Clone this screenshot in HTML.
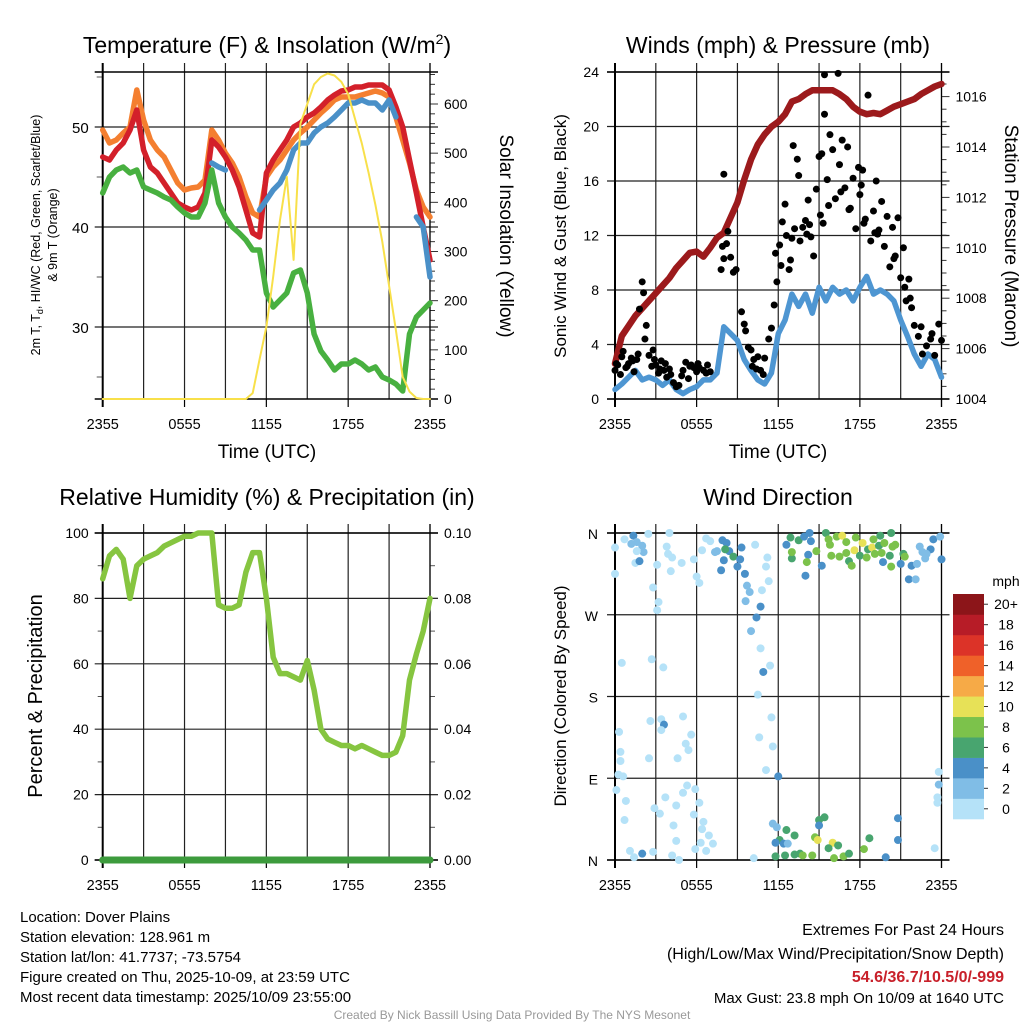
<!DOCTYPE html>
<html><head><meta charset="utf-8">
<style>
html,body{margin:0;padding:0;background:#fff;}
svg{display:block;font-family:"Liberation Sans",Arial,sans-serif;}
</style></head>
<body>
<svg id="chart" width="1024" height="1024" viewBox="0 0 1024 1024" xmlns="http://www.w3.org/2000/svg">
<rect width="1024" height="1024" fill="#fff"/>
<g id="p1"></g>
<g id="p2"></g>
<g id="p3"></g>
<g id="p4"></g>

<text x="267" y="53" font-size="23" text-anchor="middle">Temperature (F) &amp; Insolation (W/m<tspan font-size="14" dy="-9">2</tspan><tspan dy="9">)</tspan></text>
<text x="778" y="53" font-size="23" text-anchor="middle">Winds (mph) &amp; Pressure (mb)</text>
<text x="267" y="505" font-size="23" text-anchor="middle">Relative Humidity (%) &amp; Precipitation (in)</text>
<text x="778" y="505" font-size="23" text-anchor="middle">Wind Direction</text>

<text x="267" y="458" font-size="19" text-anchor="middle">Time (UTC)</text>
<text x="778" y="458" font-size="19" text-anchor="middle">Time (UTC)</text>

<g font-size="12.5" text-anchor="middle">
<text transform="translate(40,235) rotate(-90)">2m T, T<tspan font-size="9" dy="3">d</tspan><tspan dy="-3">, HI/WC (Red, Green, Scarlet/Blue)</tspan></text>
<text transform="translate(57,235) rotate(-90)">&amp; 9m T (Orange)</text>
</g>
<text transform="translate(500,236) rotate(90)" font-size="19" text-anchor="middle">Solar Insolation (Yellow)</text>
<text transform="translate(566,236) rotate(-90)" font-size="17" text-anchor="middle">Sonic Wind &amp; Gust (Blue, Black)</text>
<text transform="translate(1005,236) rotate(90)" font-size="19" text-anchor="middle">Station Pressure (Maroon)</text>
<text transform="translate(42,696) rotate(-90)" font-size="20" text-anchor="middle">Percent &amp; Precipitation</text>
<text transform="translate(566,696) rotate(-90)" font-size="17" text-anchor="middle">Direction (Colored By Speed)</text>

<g font-size="15">
<text x="20" y="922">Location: Dover Plains</text>
<text x="20" y="942">Station elevation: 128.961 m</text>
<text x="20" y="962">Station lat/lon: 41.7737; -73.5754</text>
<text x="20" y="982">Figure created on Thu, 2025-10-09, at 23:59 UTC</text>
<text x="20" y="1002">Most recent data timestamp: 2025/10/09 23:55:00</text>
</g>
<g font-size="16" text-anchor="end">
<text x="1004" y="935">Extremes For Past 24 Hours</text>
<text x="1004" y="959">(High/Low/Max Wind/Precipitation/Snow Depth)</text>
<text x="1004" y="982" fill="#c8202a" font-weight="bold">54.6/36.7/10.5/0/-999</text>
<text x="1004" y="1003" font-size="15">Max Gust: 23.8 mph On 10/09 at 1640 UTC</text>
</g>
<text x="512" y="1019" font-size="12" fill="#999" text-anchor="middle">Created By Nick Bassill Using Data Provided By The NYS Mesonet</text>
</svg>
<script>
// ---------- DATA (half-hourly, 49 points, hours since 2355) ----------
const xTickLabels = ["2355","0555","1155","1755","2355"];
const tempT2m = [47,46.7,47.7,48.4,49.7,51.7,47.7,46,45.4,44.4,43.4,42.4,42,41.7,42,43.4,48.7,48,47,45.7,44,41.7,39.4,39,45.4,46.7,47.7,48.7,50,50.4,51,51.4,52,52.7,53.2,53.6,53.7,54,54,54.2,54.2,54.2,53.7,52,50,46.7,43.4,40,36.7];
const temp9m = [49.7,48.4,48.7,49.4,50,53.7,50.7,48.7,47.7,47,45.7,44.4,43.7,43.9,44,44.7,49.7,48.7,47.4,46.4,45,43,41.4,41,45,46,46.7,47.7,48.7,49.4,50,50.7,51.4,52,52.7,53,53,53,53.2,53.4,53.6,53.4,53,51,48.7,46.4,43.7,42,41];
const tempHIWC = [null,null,null,null,null,null,null,null,null,null,null,null,null,null,null,null,46.4,46,45.7,null,null,null,null,41.7,42.7,43.7,44.4,45.7,47.7,48.4,48.4,49.4,50,50.4,51,51.7,52.4,52.4,52.7,52.4,52.4,51.7,52.7,51,null,null,41,40,35];
const dewpoint = [43.4,45,45.7,46,45.4,45.7,44,43.7,43.4,43,42.7,42,41.4,41,41,42.4,45.7,42.4,41,40,39.4,38.7,37.7,37.7,33.4,32,32.7,33.4,35.4,35.7,33.4,29.3,27.6,26.7,25.7,26.3,26.3,26.7,26.3,25.7,26,25,24.7,24.3,23.6,29.3,31,31.7,32.4];
const insolation = [0,0,0,0,0,0,0,0,0,0,0,0,0,0,0,0,0,0,0,0,0,0,12,80,147,249,364,452,283,560,600,640,655,662,658,645,620,570,520,460,395,320,230,140,45,15,2,0,0];
const windSpeed = [0.7,1.1,1.6,2.1,1.4,1.6,1.4,1,1.4,0.7,0.4,0.7,0.9,1.4,1.4,1.9,5.3,4.8,4.3,2.9,2.1,1.4,1.1,1.9,4.8,5.8,7.7,6.8,7.7,6.3,8.2,7.2,8.2,7.7,8,7.2,8.2,9,7.7,8,7.7,7.2,5.8,4.6,3.3,2.4,3.3,2.9,1.6];
const pressure = [1005.4,1006.5,1006.9,1007.3,1007.6,1007.9,1008.2,1008.5,1008.8,1009.2,1009.5,1009.8,1009.85,1009.65,1010,1010.4,1010.6,1011.2,1011.8,1012.7,1013.5,1014.1,1014.5,1014.8,1015,1015.3,1015.8,1015.9,1016.1,1016.25,1016.25,1016.25,1016.25,1016.1,1015.9,1015.6,1015.4,1015.3,1015.35,1015.3,1015.45,1015.6,1015.7,1015.8,1015.9,1016.1,1016.25,1016.4,1016.5];
const rh = [86,93,95,92,80,90,92,93,94,96,97,98,99,99,100,100,100,78,77,77,78,88,94,94,80,62,57,57,56,55,61,52,40,37,36,35,35,34,35,34,33,32,32,33,38,55,63,70,80];
const precip = [0,0,0,0,0,0,0,0,0,0,0,0,0,0,0,0,0,0,0,0,0,0,0,0,0,0,0,0,0,0,0,0,0,0,0,0,0,0,0,0,0,0,0,0,0,0,0,0,0];
const gustHours = [0,0.2,0.4,0.6,0.8,1,1.2,1.4,1.6,1.8,2,2.1,2.2,2.3,2.5,2.7,2.8,3,3.2,3.4,3.6,3.8,4,4.3,4.5,4.7,5,5.2,5.4,5.6,5.8,6,6.2,6.5,6.8,7,7.8,7.9,8,8.2,8.3,8.5,8.7,8.9,8,9.3,9.5,9.6,9.8,10,10.2,10.5,10.7,10.9,11,11.3,11.5,11.7,11.9,11.8,12.1,12.3,12.6,12.8,13,13.2,13.1,13.4,13.5,13.8,14,14.2,14.4,14.6,14.8,15,15.2,15.4,15.3,15.6,15.7,15.8,16,15.4,16.4,16.5,16.7,16.9,17.1,17.3,17.5,17.7,17.9,18,18.2,18.4,18.6,18.8,19,19.2,19.4,19.6,19.8,20,20.2,20.4,20.6,20.8,21,21.2,21.4,21.6,21.8,22,22.3,22.6,22.9,23.2,23.5,23.8,24,14.1,16.2,17.2,18.1,19.1,12.5,13.6,0.1,0.5,0.9,1.3,1.7,2.9,3.3,3.7,4.1,4.9,5.5,6.1,6.7,10.1,10.4,12.2,12.9,14.3,15.1,16.6,18.3,19.3,20.5,21.3,21.7,22.5,23.3];
const gustMph = [2.1,2.5,1.8,3.5,2.3,2.6,3,2,2.9,6.6,8.6,7.8,4.4,5.4,3.2,2.4,3.6,2.5,1.9,2.8,2.1,1.6,2.2,1.2,0.9,1,2.1,2.7,1.5,2.5,2.3,2,2.3,2.1,2.5,2,9.5,11.2,10.3,11.4,12.3,10.4,9.3,9.5,16.5,6.4,5.5,5,3.8,3.6,2.9,3.1,2.1,1.8,3,4.4,5.2,6.9,8.6,10.7,11.3,13,12,9.5,11.8,12.5,18.6,17.6,16.4,12.6,13.1,14.6,11.9,10.5,15.4,17.8,18,20.9,12.9,16.1,14.2,19.4,18.3,23.8,23.9,17.2,19,15.5,18.5,14,16.2,12.5,17,15,16.8,13.2,22.3,11.6,13.8,16,12.4,14.5,11.2,13.4,9.7,12.6,10.5,13.3,8.9,11.1,7.2,8.8,6.7,5.4,4.6,3.3,3.9,4.4,3.2,5.5,4.3,12.1,14.7,13.9,15.7,12.2,14.3,11.6,2.6,3.1,2.4,2.8,3.3,2.9,2.2,2.6,1.8,1.7,2.4,2.6,1.9,2.4,2.2,9.8,10.2,12.8,13.5,15.2,12.9,12.1,10.3,8.2,7.4,5.3,4.8];
const dirHours = [0,0,0.7,1.35,1.2,1.6,2,2.1,1.6,1.5,1.8,2.45,3.1,2.8,3.2,3.1,3.8,3.9,4.2,4.1,4,4.9,5.8,6,6.2,6.7,7,6.4,7.35,7.5,7.9,8.2,8,8.4,8.7,8.1,9,7.8,9.3,9.2,9.55,9.7,9.9,9.6,10.3,10.7,10.4,10,10.7,10.9,11.4,10.5,11.5,10.6,11.6,11.1,11.2,11.1,11.3,10.8,0.5,2.7,3.55,0.3,2.6,3.4,3.6,3.4,5,5.6,5.2,5.4,4.6,2.5,0.4,0.4,0.25,0.6,0.1,0.8,0.7,1.1,1.4,2,2.8,2.9,3.3,3.7,4.5,5.3,5,5.9,6.2,5.8,6.5,6.4,6.9,7.2,6.3,5.9,6.7,4.2,4.7,4.5,4.3,10.2,12,12.6,12.9,13,13,13.5,13.9,14.3,14.4,14.2,14.1,14,14.8,15.2,15.5,15.7,15.8,15.9,16.3,16.7,16.5,17,17,17.2,17.4,17.6,17.7,18,18.2,18.5,18.6,18.9,19,19.1,19.4,19.6,19.5,19.7,19.8,20.2,20.3,20.4,20.3,20.6,21,21.2,21.3,21.6,21.8,22.1,22.4,22.6,22.8,23.2,23.4,23.9,24,22.2,22.9,11.6,11.9,12.6,12.1,12.4,12.7,11.8,11.8,12.5,13.2,13.6,13.8,14.5,13.2,14.7,14.9,15,15,15.4,16,16.4,15.7,16.1,16.8,17.2,18.3,18.7,19.9,20.8,20.8,23.5,23.8,23.8,23.7,23.7];
const dirDeg = [344,315,353,357,348,350,346,339,340,327,329,359,325,300,284,275,345,337,333,318,360,327,331,312,305,354,351,341,339,340,352,349,330,340,334,342,323,319,344,331,315,302,295,285,347,279,267,252,233,207,214,182,157,135,125,99,333,323,307,297,217,221,212,141,153,155,149,143,158,138,128,121,112,112,119,109,94,92,77,65,44,10,3,7,9,57,51,69,60,82,74,78,63,50,42,34,27,18,19,12,10,5,0,21,38,2,92,347,355,332,339,352,356,360,351,336,328,313,340,324,360,353,347,335,356,357,334,338,350,329,324,341,355,335,349,333,342,344,353,337,346,338,357,328,349,335,360,345,323,347,326,337,334,309,324,309,345,339,332,342,353,356,331,326,337,40,36,33,22,18,18,19,4,5,6,7,5,5,27,25,22,44,38,47,19,16,13,2,4,7,12,24,3,46,22,13,97,83,69,63];
const dirSpeed = [1,1,1,5,3,3,3,3,1,1,5,1,1,1,1,1,1,1,1,1,1,1,1,1,1,1,1,1,3,3,5,5,5,5,7,7,5,5,5,5,5,3,3,3,1,5,5,3,1,5,1,1,1,1,1,1,1,1,1,1,1,1,1,1,1,1,5,1,1,1,1,1,1,1,1,1,1,1,1,1,1,1,1,5,1,1,1,1,1,1,1,1,1,1,1,1,1,1,1,1,1,1,1,1,1,1,5,5,7,7,9,7,5,5,5,5,9,5,9,5,7,9,9,9,9,11,9,9,9,7,9,11,9,7,11,9,7,11,9,9,7,9,7,5,9,7,7,9,9,9,5,7,9,5,5,3,3,3,3,5,5,3,5,3,3,3,3,7,7,5,3,5,7,7,7,7,9,9,7,9,11,7,5,7,11,7,7,9,9,7,9,7,5,5,5,1,1,3,1];
const cbarLabels = ["0","2","4","6","8","10","12","14","16","18","20+"];
const cbarColors = ["#b5e2f8","#80bde6","#4a90c8","#48a56f","#7cc24b","#e7e157","#f6aa47","#ef6129","#dc3328","#b71c27","#8c1519"];

const NS="http://www.w3.org/2000/svg";
function mk(parent,tag,attrs){const e=document.createElementNS(NS,tag);for(const k in attrs)e.setAttribute(k,attrs[k]);parent.appendChild(e);return e;}
function txt(parent,x,y,s,size,anchor){const t=mk(parent,"text",{x:x,y:y,"font-size":size,"text-anchor":anchor||"middle"});t.textContent=s;return t;}

function frame(g,L,T,R,B){
  for(let h=0;h<=24;h+=3){const x=L+(R-L)*h/24;
    const ln=mk(g,"line",{x1:x,y1:T-9,x2:x,y2:B,stroke:"#222","stroke-width":1.2});
    
    
    if(h%6===0){mk(g,"line",{x1:x,y1:B,x2:x,y2:B+8,stroke:"#000","stroke-width":1.2});
      const t=txt(g,x,B+30,xTickLabels[h/6],14.5);
      
      }
  }
}
function hgrid(g,L,R,y,ext){const ln=mk(g,"line",{x1:L-(ext||8),y1:y,x2:R+8,y2:y,stroke:"#222","stroke-width":1.2});
  
  }
function box(g,L,T,R,B){mk(g,"line",{x1:L,y1:T-9,x2:L,y2:B+8,stroke:"#000","stroke-width":2});
  mk(g,"line",{x1:R,y1:T-9,x2:R,y2:B+8,stroke:"#000","stroke-width":1.2});
  mk(g,"line",{x1:L-8,y1:B,x2:R+8,y2:B,stroke:"#000","stroke-width":1.5});
  mk(g,"line",{x1:L-8,y1:T,x2:R+8,y2:T,stroke:"#000","stroke-width":1.5});}
function linePath(g,vals,xf,yf,color,w,name){
  let d="",pen=false;
  vals.forEach((v,i)=>{if(v===null){pen=false;return;}d+=(pen?"L":"M")+xf(i).toFixed(1)+","+yf(v).toFixed(1);pen=true;});
  const p=mk(g,"path",{d:d,fill:"none",stroke:color,"stroke-width":w,"stroke-linejoin":"round","stroke-linecap":"round"});
  
  
  return p;}

(function(){
  const g=document.getElementById("p1");const L=102.7,R=430,T=72,B=399;
  const x=i=>L+(R-L)*(i*0.5)/24;
  const y=v=>127+(50-v)*10;
  const yr=v=>B-v*(B-104)/600;
  frame(g,L,T,R,B);
  [30,40,50].forEach(v=>{hgrid(g,L,R,y(v));const t=txt(g,L-14,y(v)+6,String(v),15,"end");
    
    });
  [25,35,45,55].forEach(v=>mk(g,"line",{x1:L-6,y1:y(v),x2:L,y2:y(v),stroke:"#555","stroke-width":1}));
  for(let v=0;v<=660;v+=20){const maj=v%100===0;mk(g,"line",{x1:R,y1:yr(v),x2:R+(maj?8:5),y2:yr(v),stroke:"#333","stroke-width":1});
    if(maj){const t=txt(g,R+14,yr(v)+5,String(v),14,"start");
      
      }}
  box(g,L,T,R,B);
  linePath(g,temp9m,x,y,"#f47f30",5.5,"line-9m-temp");
  linePath(g,tempT2m,x,y,"#d3202a",5.5,"line-2m-temp");
  linePath(g,tempHIWC,x,y,"#4a90c8",5.5,"line-heat-index-wind-chill");
  linePath(g,dewpoint,x,y,"#48b040",5.5,"line-dewpoint");
  linePath(g,insolation,x,yr,"#f8e04a",2,"line-insolation");
})();

(function(){
  const g=document.getElementById("p2");const L=615,R=941.5,T=72,B=399;
  const x=i=>L+(R-L)*(i*0.5)/24;
  const xh=h=>L+(R-L)*h/24;
  const y=v=>B-v*(B-T)/24;
  const yp=v=>B-(v-1004)*25.2;
  frame(g,L,T,R,B);
  for(let v=0;v<=24;v+=4){hgrid(g,L,R,y(v));const t=txt(g,L-16,y(v)+5,String(v),14,"end");
    
    }
  for(let v=1004;v<=1016.6;v+=0.5){const maj=Math.abs(v%2)<0.01;mk(g,"line",{x1:R,y1:yp(v),x2:R+(maj?8:5),y2:yp(v),stroke:"#333","stroke-width":1});
    if(maj){const t=txt(g,R+14,yp(v)+5,String(v),14,"start");
      
      }}
  box(g,L,T,R,B);
  linePath(g,windSpeed,x,y,"#4e96d2",5.5,"line-wind-speed");
  linePath(g,pressure,x,yp,"#9c1a1c",6.5,"line-pressure");
  gustHours.forEach((h,i)=>{const c=mk(g,"circle",{cx:xh(h),cy:y(gustMph[i]),r:3.5,fill:"#000"});
    
    });
})();

(function(){
  const g=document.getElementById("p3");const L=102.7,R=430,T=533,B=860;
  const x=i=>L+(R-L)*(i*0.5)/24;
  const y=v=>B-v*(B-T)/100;
  const yr=v=>B-v*(B-T)/0.1;
  frame(g,L,T,R,B);
  for(let v=0;v<=100;v+=20){hgrid(g,L,R,y(v));const t=txt(g,L-14,y(v)+5,String(v),14,"end");
    
    
    mk(g,"line",{x1:R,y1:y(v),x2:R+8,y2:y(v),stroke:"#333","stroke-width":1});
    const t2=txt(g,R+14,y(v)+5,(v/1000).toFixed(2),14,"start");
    
    }
  for(let v=10;v<100;v+=20){mk(g,"line",{x1:L-5,y1:y(v),x2:L,y2:y(v),stroke:"#555","stroke-width":1});mk(g,"line",{x1:R,y1:y(v),x2:R+5,y2:y(v),stroke:"#555","stroke-width":1});}
  box(g,L,T,R,B);
  linePath(g,rh,x,y,"#86c540",5.5,"line-relative-humidity");
  linePath(g,precip,x,yr,"#3d9b3d",7,"line-precipitation");
})();

(function(){
  const g=document.getElementById("p4");const L=615,R=941.5,T=533,B=860;
  const xh=h=>L+(R-L)*h/24;
  const y=d=>B-d*(B-T)/360;
  frame(g,L,T,R,B);
  const dl=["N","E","S","W","N"];
  for(let k=0;k<=4;k++){hgrid(g,L,R,y(k*90));const t=txt(g,L-17,y(k*90)+6,dl[k],14,"end");
    
    }
  box(g,L,T,R,B);
  dirHours.forEach((h,i)=>{const s=(dirSpeed[i]===undefined)?1:dirSpeed[i];
    const bin=Math.min(10,Math.floor(s/2));
    const c=mk(g,"circle",{cx:xh(h),cy:y(dirDeg[i]),r:4,fill:cbarColors[bin]});
    
    });
  const cb=mk(g,"g",{});
  
  
  const cT=594,cB=819,bh=(cB-cT)/11;
  cbarColors.forEach((c,i)=>{const yy=cB-(i+1)*bh;
    mk(cb,"rect",{x:953,y:yy,width:31,height:bh+0.3,fill:c});
    mk(cb,"line",{x1:984,y1:yy+bh/2,x2:988,y2:yy+bh/2,stroke:"#333","stroke-width":1});
    const t=txt(cb,1006,yy+bh/2+5,cbarLabels[i],14,"middle");
    
    });
  const u=txt(cb,1006,586,"mph",14,"middle");
  
  
})();
</script>
</body></html>
